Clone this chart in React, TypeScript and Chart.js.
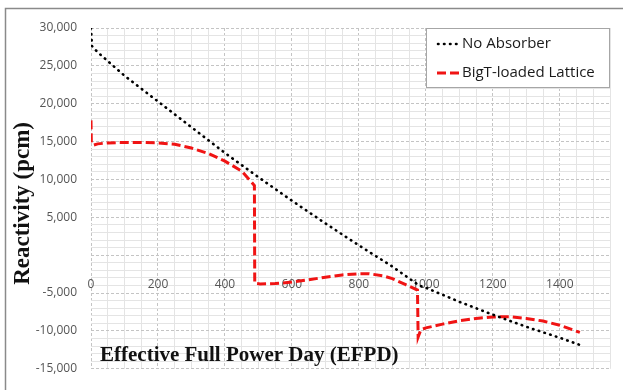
import React, { useEffect, useRef } from 'react';
import { Chart, registerables } from 'chart.js';

Chart.register(...registerables);

// ---- data ----
const seriesNames = ['No Absorber', 'BigT-loaded Lattice'];

const noAbsorberDays = [0, 3, 20, 100, 200, 300, 400, 500, 600, 700, 800, 900, 980, 1000, 1100, 1200, 1300, 1400, 1460];
const noAbsorberPcm = [30000, 27600, 26800, 23700, 20300, 16900, 13500, 10300, 7200, 4200, 1300, -1500, -4000, -4300, -6150, -7850, -9450, -10900, -11850];

const bigTDays = [0, 1, 8, 20, 50, 100, 150, 200, 250, 300, 350, 400, 450, 488, 489, 505, 550, 600, 650, 700, 750, 800, 830, 870, 900, 940, 975, 977, 985, 1000, 1050, 1100, 1150, 1200, 1250, 1300, 1350, 1400, 1460];
const bigTPcm = [17800, 14800, 14550, 14700, 14830, 14880, 14880, 14830, 14650, 14150, 13430, 12420, 11100, 9200, -3700, -3800, -3750, -3550, -3250, -2900, -2600, -2450, -2450, -2700, -3100, -3900, -4600, -10800, -9850, -9600, -9100, -8650, -8350, -8150, -8130, -8350, -8700, -9250, -10200];

const xLabelValues = [0, 200, 400, 600, 800, 1000, 1200, 1400];
const yLabelValues = [-15000, -10000, -5000, 5000, 10000, 15000, 20000, 25000, 30000];

const xTitle = 'Effective Full Power Day (EFPD)';
const yTitle = 'Reactivity (pcm)';

const seriesColors = ['#000000', '#f01414'];

const tickFont = { family: "'Open Sans', sans-serif", size: 12 };

const decorPlugin = {
  id: 'decor',
  beforeDraw(chart: any) {
    const ctx = chart.ctx;
    ctx.save();
    ctx.fillStyle = '#ffffff';
    ctx.fillRect(0, 0, chart.width, chart.height);
    ctx.strokeStyle = '#8a8a8a';
    ctx.lineWidth = 1.5;
    ctx.beginPath();
    ctx.moveTo(5.5, chart.height);
    ctx.lineTo(5.5, 8.5);
    ctx.lineTo(chart.width, 8.5);
    ctx.stroke();
    ctx.restore();
  },
  afterDraw(chart: any) {
    const ctx = chart.ctx;
    const area = chart.chartArea;
    ctx.save();
    // x title inside plot
    ctx.fillStyle = '#111';
    ctx.font = "bold 21px 'Liberation Serif', serif";
    ctx.textAlign = 'left';
    ctx.textBaseline = 'middle';
    ctx.fillText(xTitle, area.left + 9, area.bottom - 13);

    // y title
    ctx.save();
    ctx.translate(area.left - 68, (area.top + area.bottom) / 2 + 5);
    ctx.rotate(-Math.PI / 2);
    ctx.font = "bold 23px 'Liberation Serif', serif";
    ctx.textAlign = 'center';
    ctx.textBaseline = 'middle';
    ctx.fillText(yTitle, 0, 0);
    ctx.restore();

    // legend box
    const bw = 183;
    const bh = 59;
    const bx = area.right - bw - 1;
    const by = area.top;
    ctx.fillStyle = '#ffffff';
    ctx.fillRect(bx, by, bw, bh);
    ctx.strokeStyle = '#a6a6a6';
    ctx.lineWidth = 1;
    ctx.strokeRect(bx + 0.5, by + 0.5, bw, bh);

    const rows = [by + 16, by + 45];
    // dotted sample
    ctx.strokeStyle = seriesColors[0];
    ctx.lineWidth = 2.6;
    ctx.lineCap = 'round';
    ctx.setLineDash([0.5, 5.5]);
    ctx.beginPath();
    ctx.moveTo(bx + 12, rows[0]);
    ctx.lineTo(bx + 32, rows[0]);
    ctx.stroke();
    // dashed sample
    ctx.strokeStyle = seriesColors[1];
    ctx.lineWidth = 3;
    ctx.lineCap = 'butt';
    ctx.setLineDash([9, 4]);
    ctx.beginPath();
    ctx.moveTo(bx + 11, rows[1]);
    ctx.lineTo(bx + 33, rows[1]);
    ctx.stroke();
    ctx.setLineDash([]);

    ctx.fillStyle = '#1a1a1a';
    ctx.font = "15px 'Open Sans', sans-serif";
    ctx.textAlign = 'left';
    ctx.textBaseline = 'middle';
    ctx.fillText(seriesNames[0], bx + 36, rows[0]);
    ctx.fillText(seriesNames[1], bx + 36, rows[1]);
    ctx.restore();
  },
};

export default function App() {
  const canvasRef = useRef<HTMLCanvasElement | null>(null);

  useEffect(() => {
    const canvas = canvasRef.current;
    if (!canvas) return;
    const toPoints = (xs: number[], ys: number[]) => xs.map((x, i) => ({ x, y: ys[i] }));

    const isMajorX = (v: number) => v % 200 === 0;
    const isMajorY = (v: number) => v % 5000 === 0;

    const chart = new Chart(canvas, {
      type: 'line',
      data: {
        datasets: [
          {
            label: seriesNames[0],
            data: toPoints(noAbsorberDays, noAbsorberPcm),
            borderColor: seriesColors[0],
            borderWidth: 2.6,
            borderDash: [0.5, 5.5],
            borderCapStyle: 'round',
            pointRadius: 0,
            tension: 0,
            fill: false,
          },
          {
            label: seriesNames[1],
            data: toPoints(bigTDays, bigTPcm),
            borderColor: seriesColors[1],
            borderWidth: 3,
            borderDash: [9, 4],
            pointRadius: 0,
            tension: 0,
            fill: false,
          },
        ],
      },
      options: {
        animation: false,
        responsive: false,
        maintainAspectRatio: false,
        layout: { padding: { top: 28, right: 13, bottom: 7, left: 0 } },
        plugins: { legend: { display: false }, tooltip: { enabled: false } },
        scales: {
          x: {
            type: 'linear',
            min: 0,
            max: 1550,
            position: { y: 0 } as any,
            afterFit: (s: any) => {
              s.paddingLeft = 0;
              s.paddingRight = 0;
            },
            ticks: {
              stepSize: 50,
              autoSkip: false,
              maxRotation: 0,
              minRotation: 0,
              padding: 22,
              color: '#555555',
              font: tickFont,
              callback: (v: any) => (xLabelValues.includes(Number(v)) ? String(v) : ''),
            },
            grid: {
              drawTicks: false,
              lineWidth: 1,
              color: (c: any) => (c.tick && isMajorX(c.tick.value) ? '#c4c4c4' : '#e4e4e4'),
            },
            border: {
              display: false,
              dash: (c: any) => (c.tick && isMajorX(c.tick.value) ? [3, 2] : []),
            } as any,
          },
          y: {
            type: 'linear',
            min: -15000,
            max: 30000,
            afterFit: (s: any) => {
              s.width = 91;
            },
            ticks: {
              stepSize: 1000,
              autoSkip: false,
              maxTicksLimit: 100,
              padding: 14,
              color: '#555555',
              font: tickFont,
              callback: (v: any) =>
                yLabelValues.includes(Number(v)) ? Number(v).toLocaleString('en-US') : '',
            },
            grid: {
              drawTicks: false,
              lineWidth: 1,
              color: (c: any) => (c.tick && isMajorY(c.tick.value) ? '#c4c4c4' : '#e4e4e4'),
            },
            border: {
              display: false,
              dash: (c: any) => (c.tick && isMajorY(c.tick.value) ? [3, 2] : []),
            } as any,
          },
        },
      } as any,
      plugins: [decorPlugin],
    });
    return () => chart.destroy();
  }, []);

  return (
    <div style={{ position: 'fixed', left: 0, top: 0, width: 623, height: 390, background: '#fff' }}>
      <canvas ref={canvasRef} width={623} height={390} style={{ width: 623, height: 390, display: 'block' }} />
    </div>
  );
}
